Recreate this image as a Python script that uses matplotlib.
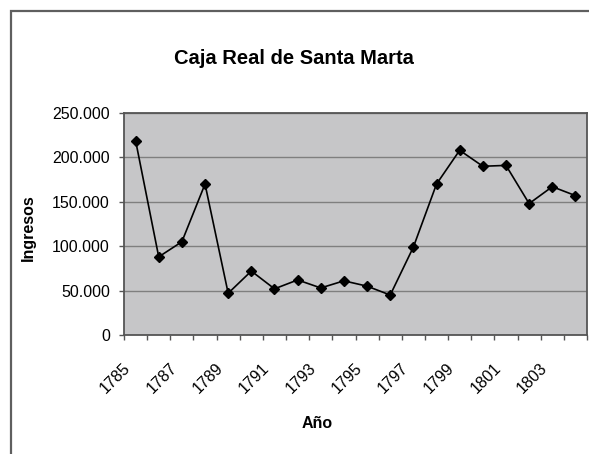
import matplotlib
matplotlib.use("Agg")
import matplotlib.pyplot as plt
from matplotlib.patches import Rectangle
from matplotlib.ticker import FuncFormatter, FixedLocator
from matplotlib.transforms import ScaledTranslation

plt.rcParams['font.family'] = ['Liberation Sans', 'DejaVu Sans']

# data
years = list(range(1785, 1805))
ingresos = [219000, 88000, 105000, 170000, 47000, 72000, 52000, 62000, 53000, 61000,
            55000, 45000, 99000, 170000, 208000, 190000, 191000, 148000, 167000, 157000]
y_ticks = [0, 50000, 100000, 150000, 200000, 250000]

W, H, DPI = 589, 454, 100
fig = plt.figure(figsize=(W / DPI, H / DPI), dpi=DPI)

# outer chart border (only left and top visible, chart is cropped)
fig.patches.append(Rectangle((11 / W, -0.1), 1.2, 1.1 - 11 / H, transform=fig.transFigure,
                             fill=False, edgecolor='#5f5f5f', linewidth=1.6))

left, right, top, bottom = 124, 587, 113, 335
ax = fig.add_axes([left / W, 1 - bottom / H, (right - left) / W, (bottom - top) / H])
ax.set_facecolor('#c6c6c8')

x = list(range(len(years)))
ax.plot(x, ingresos, color='black', linewidth=1.2, marker='D', markersize=5.5,
        markerfacecolor='black', markeredgecolor='black', zorder=3)

ax.set_xlim(-0.5, len(years) - 0.5)
ax.set_ylim(0, 250000)

# y axis
ax.yaxis.set_major_locator(FixedLocator(y_ticks))
ax.yaxis.set_major_formatter(FuncFormatter(lambda v, p: f"{int(v):,}".replace(",", ".")))
ax.grid(axis='y', color='#7f7f7f', linewidth=1.0)
ax.set_axisbelow(True)
ax.tick_params(axis='y', direction='out', length=3.6, width=1, color='#555555',
               labelsize=11.5, pad=6.5)

# x axis: ticks at category boundaries, labels every other year
bounds = [i - 0.5 for i in range(len(years) + 1)]
ax.set_xticks(bounds)
labels = [str(years[i]) if i < len(years) and i % 2 == 0 else '' for i in range(len(bounds))]
ax.set_xticklabels(labels, rotation=45, ha='right', va='center', rotation_mode='anchor')
ax.tick_params(axis='x', direction='out', length=3.6, width=1, color='#555555',
               labelsize=11.5, pad=18.5)
off = ScaledTranslation(4 / DPI, 0, fig.dpi_scale_trans)
for lab in ax.get_xticklabels():
    lab.set_transform(lab.get_transform() + off)

for s in ax.spines.values():
    s.set_color('#555555')
    s.set_linewidth(1.3)

fig.text(294 / W, 1 - 58 / H, 'Caja Real de Santa Marta', ha='center', va='center',
         fontsize=14.5, fontweight='bold')
fig.text(28 / W, 1 - 228 / H, 'Ingresos', ha='center', va='center', rotation=90,
         fontsize=11.5, fontweight='bold')
fig.text(317 / W, 1 - 423 / H, 'Año', ha='center', va='center',
         fontsize=11.5, fontweight='bold')

fig.savefig('out.png', dpi=DPI)
